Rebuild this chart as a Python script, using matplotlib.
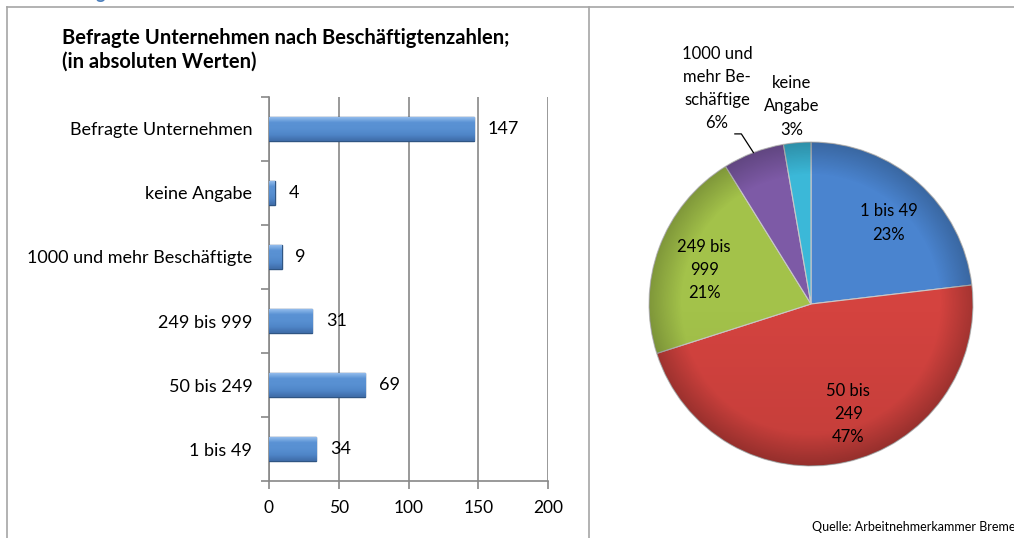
import numpy as np
import matplotlib.pyplot as plt
from matplotlib.lines import Line2D
from matplotlib.patches import Circle
from matplotlib.colors import LinearSegmentedColormap

plt.rcParams['font.family'] = ['Lato', 'DejaVu Sans']

# data
categories = ['1 bis 49', '50 bis 249', '249 bis 999',
              '1000 und mehr Beschäftigte', 'keine Angabe', 'Befragte Unternehmen']
counts = [34, 69, 31, 9, 4, 147]
xticks = [0, 50, 100, 150, 200]

pie_labels = ['1 bis 49', '50 bis\n249', '249 bis\n999', '1000 und\nmehr Be-\nschäftige', 'keine\nAngabe']
pie_values = [34, 69, 31, 9, 4]
pie_colors = ['#4a84cf', '#d4433f', '#a3c24a', '#7d5aa6', '#3bb8d8']
# label positions in pie-radius units (layout only)
pie_label_pos = [(0.48, 0.50), (0.23, -0.68), (-0.66, 0.21), (-0.58, 1.33), (-0.12, 1.22)]

W, H = 1014, 538
fig = plt.figure(figsize=(W / 100, H / 100), dpi=100)

def fx(px):
    return px / W

def fy(py):
    return 1 - py / H

# frame lines
frame = '#a6a6a6'
fig.add_artist(Line2D([fx(7), fx(7)], [fy(7), 0], color=frame, lw=1.2))
fig.add_artist(Line2D([fx(7), 1], [fy(7), fy(7)], color=frame, lw=1.2))
fig.add_artist(Line2D([fx(589), fx(589)], [fy(7), 0], color=frame, lw=1.2))
fig.text(fx(95), fy(-1), 'g', color='#4f81bd', fontsize=13, fontweight='bold', va='baseline')

# title
fig.text(fx(62), fy(38), 'Befragte Unternehmen nach Beschäftigtenzahlen;', fontsize=14.5,
         fontweight='bold', va='center', ha='left')
fig.text(fx(62), fy(62), '(in absoluten Werten)', fontsize=14.5,
         fontweight='bold', va='center', ha='left')

# bar chart
ax = fig.add_axes([fx(269), fy(481), fx(548) - fx(269), fy(97) - fy(481)])
y = np.arange(len(categories))
bars = ax.barh(y, counts, height=0.39, color='#4f84c6', edgecolor='#2f5583', linewidth=1.0, zorder=3)
grad = LinearSegmentedColormap.from_list('bar', ['#3f6ca8', '#4f86c8', '#5890d2', '#5a92d4', '#9cc3f0'])
g = np.linspace(0, 1, 64).reshape(-1, 1)
for b, v in zip(bars, counts):
    x0, y0, w, h = b.get_x(), b.get_y(), b.get_width(), b.get_height()
    im = ax.imshow(g, cmap=grad, aspect='auto', origin='lower', extent=(x0, x0 + w, y0, y0 + h),
                   zorder=3.5)
    im.set_clip_path(b)
    ax.annotate(str(v), (w, y0 + h / 2), xytext=(10, 0),
                textcoords='offset points', va='center', ha='left', fontsize=13)
ax.set_xlim(0, 200)
ax.set_ylim(-0.5, len(categories) - 0.5)
ax.set_xticks(xticks)
ax.set_xticklabels([str(t) for t in xticks], fontsize=12.5)
ax.set_yticks(y)
ax.set_yticklabels(categories, fontsize=13)
ax.set_yticks(np.arange(-0.5, len(categories)), minor=True)
ax.tick_params(axis='y', which='major', length=0, pad=12)
ax.tick_params(axis='y', which='minor', length=6, color='#888888', width=1.2)
ax.tick_params(axis='x', length=6, color='#888888', width=1.2, pad=8)
ax.grid(axis='x', color='#888888', lw=1.2, zorder=0)
for s in ['top', 'right']:
    ax.spines[s].set_visible(False)
for s in ['left', 'bottom']:
    ax.spines[s].set_color('#888888')
    ax.spines[s].set_linewidth(1.2)

# pie chart
r = 162
cx, cy = 811, 304
pax = fig.add_axes([fx(cx - r), fy(cy + r), 2 * r / W, 2 * r / H])
total = sum(pie_values)
wedges, _ = pax.pie(pie_values, colors=pie_colors, startangle=90, counterclock=False,
                    radius=1, wedgeprops=dict(edgecolor='#c8c8c8', linewidth=0.8))
pax.set_xlim(-1, 1)
pax.set_ylim(-1, 1)
pax.axis('off')

# soft rim shading to hint at the bevelled look
xx, yy = np.meshgrid(np.linspace(-1, 1, 300), np.linspace(-1, 1, 300))
rr = np.sqrt(xx ** 2 + yy ** 2)
shade = np.zeros((300, 300, 4))
shade[..., 3] = np.clip((rr - 0.8) / 0.2, 0, 1) * 0.22 + np.clip(-yy, 0, 1) * 0.08
rim = Circle((0, 0), 1, transform=pax.transData, visible=False)
pax.add_patch(rim)
sim = pax.imshow(shade, extent=(-1, 1, -1, 1), origin='lower', zorder=2)
sim.set_clip_path(rim)
pax.set_xlim(-1, 1)
pax.set_ylim(-1, 1)

for i, (w, lab, v) in enumerate(zip(wedges, pie_labels, pie_values)):
    pct = '%d%%' % round(100 * v / total)
    tx, ty = pie_label_pos[i]
    pax.text(tx, ty, lab + '\n' + pct, ha='center', va='center', fontsize=12,
             linespacing=1.55, clip_on=False, zorder=5)
    if i == 3:
        mid = np.deg2rad((w.theta1 + w.theta2) / 2)
        pax.plot([tx + 0.11, tx + 0.15, np.cos(mid)], [ty - 0.28, ty - 0.28, np.sin(mid)],
                 color='black', lw=0.9, clip_on=False, zorder=5)

fig.text(fx(812), fy(527), 'Quelle: Arbeitnehmerkammer Bremen', fontsize=9, va='center', ha='left')

fig.savefig('out.png', dpi=100)
